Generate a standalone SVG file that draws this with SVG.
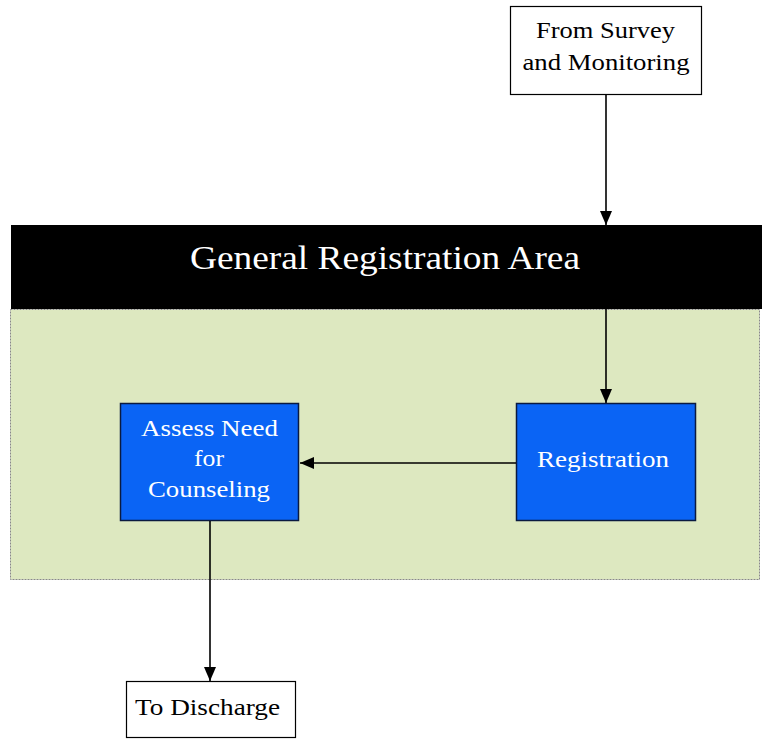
<svg xmlns="http://www.w3.org/2000/svg" width="762" height="740" viewBox="0 0 762 740">
<style>
text{font-family:"Liberation Serif","Times New Roman",serif;text-anchor:middle}
.w{fill:#fff}
.k{fill:#000}
.box{fill:#fff;stroke:#000;stroke-width:1.2}
.blue{fill:#0a64f5;stroke:#0a1a40;stroke-width:1.5}
.c{stroke:#000;stroke-width:1.6;fill:none;marker-end:url(#ah)}
</style>
<defs>
<marker id="ah" viewBox="0 0 14 12" refX="14" refY="6" markerWidth="14" markerHeight="12" markerUnits="userSpaceOnUse" orient="auto">
<path d="M0,0 L14,6 L0,12 z" fill="#000"/>
</marker>
</defs>
<rect width="762" height="740" fill="#fff"/>
<g id="area">
<rect x="10.5" y="309.5" width="749" height="270" fill="#dde8c0" stroke="#888" stroke-width="1" stroke-dasharray="2,1"/>
<rect x="11" y="225" width="751" height="84" fill="#000"/>
<text x="385" y="269" class="w" font-size="33" textLength="390" lengthAdjust="spacingAndGlyphs">General Registration Area</text>
</g>
<g id="survey">
<rect x="510.5" y="6.5" width="191" height="88" class="box"/>
<text x="605.5" y="38" class="k" font-size="23" textLength="139" lengthAdjust="spacingAndGlyphs">From Survey</text>
<text x="606" y="70" class="k" font-size="23" textLength="167" lengthAdjust="spacingAndGlyphs">and Monitoring</text>
</g>
<g id="assess">
<rect x="120.5" y="403.5" width="178" height="117" class="blue"/>
<text x="209.5" y="436" class="w" font-size="23" textLength="137" lengthAdjust="spacingAndGlyphs">Assess Need</text>
<text x="209" y="466" class="w" font-size="23" textLength="30" lengthAdjust="spacingAndGlyphs">for</text>
<text x="209" y="497" class="w" font-size="23" textLength="122" lengthAdjust="spacingAndGlyphs">Counseling</text>
</g>
<g id="registration">
<rect x="516.5" y="403.5" width="179" height="117" class="blue"/>
<text x="603" y="467" class="w" font-size="23" textLength="132" lengthAdjust="spacingAndGlyphs">Registration</text>
</g>
<g id="discharge">
<rect x="126.5" y="681.5" width="169" height="56" class="box"/>
<text x="207.5" y="715" class="k" font-size="23" textLength="145" lengthAdjust="spacingAndGlyphs">To Discharge</text>
</g>
<g id="connectors">
<line x1="606" y1="95" x2="606" y2="225" class="c"/>
<line x1="606" y1="309" x2="606" y2="403" class="c"/>
<line x1="516" y1="463" x2="300" y2="463" class="c"/>
<line x1="210" y1="521" x2="210" y2="681" class="c"/>
</g>
</svg>
